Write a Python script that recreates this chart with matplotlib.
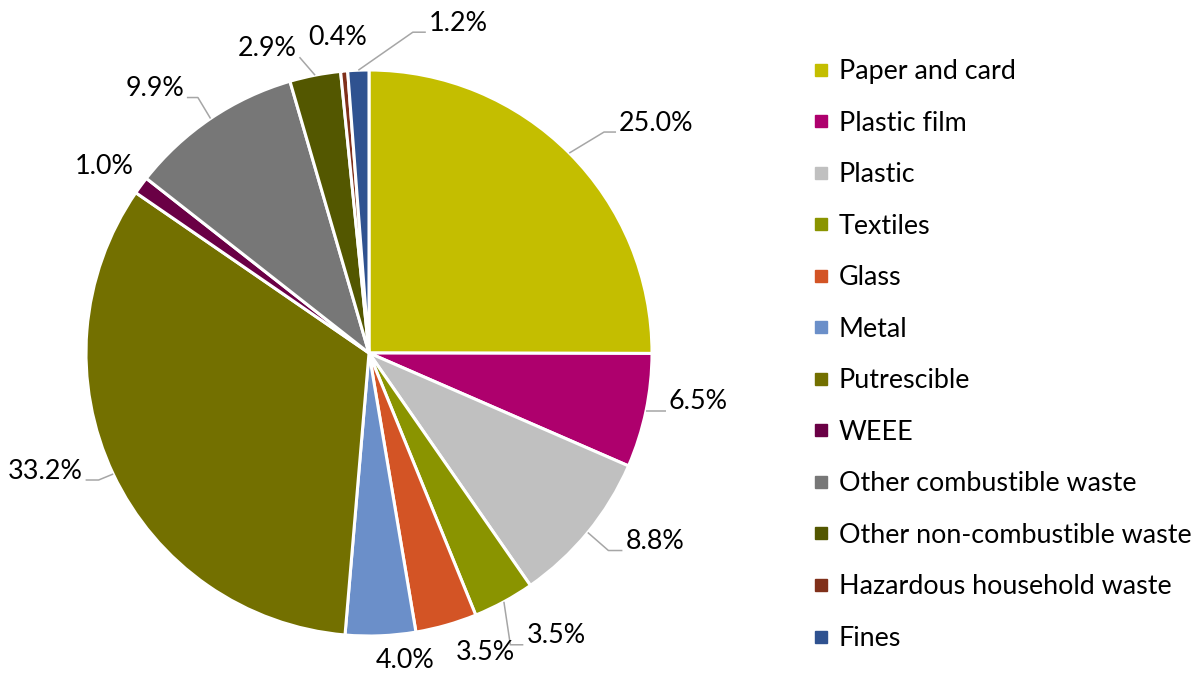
import numpy as np
import matplotlib
matplotlib.use("Agg")
import matplotlib.pyplot as plt
from matplotlib.lines import Line2D

# data
categories = ["Paper and card", "Plastic film", "Plastic", "Textiles", "Glass", "Metal",
              "Putrescible", "WEEE", "Other combustible waste", "Other non-combustible waste",
              "Hazardous household waste", "Fines"]
shares = [25.0, 6.5, 8.8, 3.5, 3.5, 4.0, 33.2, 1.0, 9.9, 2.9, 0.4, 1.2]
colors = ["#C4BE00", "#AE006D", "#C0C0C0", "#8A9400", "#D35425", "#6B8FC9",
          "#737000", "#6A0045", "#777777", "#535700", "#80301A", "#2F5290"]

# label placement (pixel offsets from the wedge edge, y down) and leader lines
label_offsets = [(87, -30), (52, -9), (67, 9), (52, 34), (39, 27), (25, 25),
                 (-68, -3), (-37, -19), (-56, -30), (-48, -27), (-6, -34), (100, -47)]
leader_hlen = [12, 12, 14, 13, None, None, 13, None, 11, 0, None, 13]

plt.rcParams['font.family'] = ['Lato', 'DejaVu Sans']
FS = 19.4

W, H = 1203, 675
CX, CY, R = 369, 353, 283  # pie centre / radius in pixels

fig = plt.figure(figsize=(W / 100, H / 100), dpi=100)
ax = fig.add_axes([0, 0, 1, 1])

wedges, _ = ax.pie(shares, colors=colors, startangle=90, counterclock=False,
                   radius=1, wedgeprops=dict(edgecolor="white", linewidth=2.2))
ax.set_xlim(-CX / R, (W - CX) / R)
ax.set_ylim(-(H - CY) / R, CY / R)
ax.set_aspect("auto")
ax.axis("off")

texts = []
anchors = []
for w, val, off in zip(wedges, shares, label_offsets):
    th = np.deg2rad((w.theta1 + w.theta2) / 2)
    a = (np.cos(th), np.sin(th))
    anchors.append(a)
    t = ax.annotate(f"{val:.1f}%", xy=a, xytext=(off[0], -off[1]),
                    textcoords="offset pixels", ha="center", va="center",
                    fontsize=FS, color="black")
    texts.append(t)

fig.canvas.draw()
renderer = fig.canvas.get_renderer()
inv = ax.transData.inverted()
for t, a, off, hl in zip(texts, anchors, label_offsets, leader_hlen):
    if hl is None:
        continue
    bb = t.get_window_extent(renderer)
    ax_px = ax.transData.transform(a)
    cy = (bb.y0 + bb.y1) / 2 - 9
    if off[0] >= 0:
        end = (bb.x0 - 3, cy)
        elbow = (end[0] - hl, cy)
    else:
        end = (bb.x1 + 3, cy)
        elbow = (end[0] + hl, cy)
    pts = inv.transform([ax_px, elbow, end])
    ax.plot(pts[:, 0], pts[:, 1], color="#A6A6A6", lw=1.1, solid_capstyle="butt")

handles = [Line2D([], [], marker="s", linestyle="", markersize=8.5, color=c) for c in colors]
fig.legend(handles, categories, loc="upper left", bbox_to_anchor=(813 / W, 1 - 59 / H),
           frameon=False, fontsize=FS, handlelength=0.6, handletextpad=0.35,
           labelspacing=0.985, borderpad=0, borderaxespad=0)

fig.savefig("out.png", dpi=100)
